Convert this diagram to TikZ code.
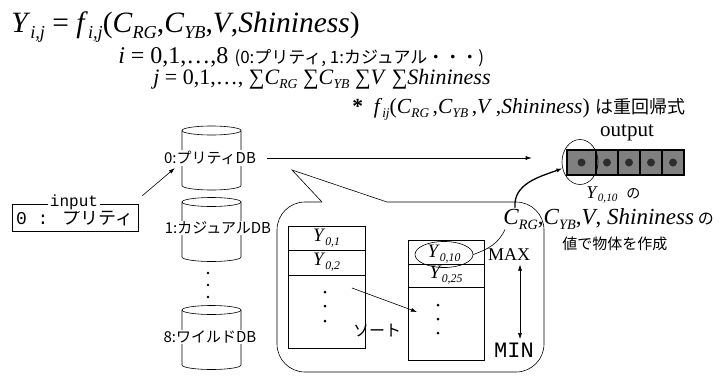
\documentclass[tikz,border=0pt]{standalone}
\usepackage{fontspec}
\usepackage{graphicx}
\setmainfont{Liberation Serif}
\newfontfamily\jpfont{Noto Sans CJK JP}
\newfontfamily\monofont{Liberation Mono}
\usetikzlibrary{arrows.meta,positioning,shapes.geometric}
\definecolor{cellgray}{RGB}{128,128,128}
\definecolor{dotgray}{RGB}{45,45,45}
\newcommand{\mi}[1]{\textit{#1}}
\newcommand{\sbs}[1]{\raisebox{-0.22em}{\scalebox{0.62}{\textit{#1}}}}
\newcommand{\fsz}[1]{\fontsize{#1}{#1}\selectfont}

\begin{document}
\begin{tikzpicture}[
  x=1pt, y=-1pt,
  >={Latex[length=6pt,width=4pt]},
  line width=0.6pt,
  txt/.style={inner sep=0pt, anchor=base west},
  dblabel/.style={fill=white, inner sep=1pt, font=\jpfont\fsz{15}},
  cell/.style={draw, outer sep=0pt, minimum width=77pt, inner sep=0pt, font=\fsz{19}},
  ocell/.style={draw=black, line width=1.3pt, fill=cellgray, outer sep=0pt, minimum height=25pt, minimum width=22pt, inner sep=0pt},
]
\useasboundingbox (0,0) rectangle (723,378);

% formulas
\node[txt, font=\fsz{29.5}] (eqy) at (11,32) {\mi{Y}\sbs{i,j} = \mi{f}\sbs{i,j}(\mi{C}\sbs{RG},\mi{C}\sbs{YB},\mi{V},\mi{Shininess})};
\node[txt, font=\fsz{24}] (eqi) at (118,63) {\mi{i} = 0,1,…,8 {\jpfont\fsz{17}(0:プリティ, 1:カジュアル・・・)}};
\node[txt, font=\fsz{22}] (eqj) at (153,84) {\mi{j} = 0,1,…, ∑\mi{C}\sbs{RG} ∑\mi{C}\sbs{YB} ∑\mi{V} ∑\mi{Shininess}};
\node[txt, font=\fsz{21.5}] (eqf) at (352,113) {\textbf{*}\ \ \mi{f}\sbs{ij}(\mi{C}\sbs{RG}\,,\mi{C}\sbs{YB}\,,\mi{V}\,,\mi{Shininess}) {\jpfont\fsz{18}は重回帰式}};

% databases
\foreach \ty/\nm/\lx/\ly/\lb in {130.5/db0/210/158/{0:プリティDB}, 202/db1/218/228/{1:カジュアルDB}, 310/db8/210/337/{8:ワイルドDB}} {
  \draw (211.5,\ty) ellipse [x radius=29.5pt, y radius=4.5pt];
  \draw (182,\ty) -- (182,\ty+55) arc [start angle=180, end angle=360, x radius=29.5pt, y radius=4.5pt] -- (241,\ty);
  \node[dblabel] (\nm) at (\lx,\ly) {\lb};
}
\foreach \yy in {273,285,297} \fill (208,\yy) circle [radius=1.4pt];

% input
\node[draw, minimum width=126pt, minimum height=27pt, inner sep=0pt] (inbox) at (75,217.5) {{\monofont\fsz{18}0 : }{\jpfont\fsz{18}プリティ}};
\node[fill=white, inner sep=2pt, anchor=base, font=\monofont\fsz{16}] (inlbl) at (74,206) {input};
\draw[->] ([xshift=4pt,yshift=8pt]inbox.north east) -- ([xshift=12pt,yshift=-2pt]db0.south west);

% output
\node[font=\fsz{21}, anchor=base] (outlbl) at (627,136) {output};
\node[ocell, minimum width=29pt] (o1) at (581.5,162.5) {};
\node[ocell, right=0pt of o1] (o2) {};
\node[ocell, right=0pt of o2] (o3) {};
\node[ocell, right=0pt of o3] (o4) {};
\node[ocell, right=0pt of o4] (o5) {};
\foreach \o in {o1,o2,o3,o4,o5} \fill[dotgray] (\o) circle [radius=4pt];
\node[draw, ellipse, minimum width=36pt, minimum height=45pt, inner sep=0pt] (osel) at (580,162) {};
\draw[->, shorten <=10pt, shorten >=30pt] (db0.east) -- (db0.east -| osel.west);

\node[txt, font=\fsz{18}] (ysel) at (586,198) {\mi{Y}\sbs{0,10}\ \ {\jpfont\fsz{14}の}};
\node[txt, font=\fsz{23}] (crg) at (503,224) {\mi{C}\sbs{RG},\mi{C}\sbs{YB},\mi{V}, \mi{Shininess}\,{\jpfont\fsz{16}の}};
\node[txt, font=\jpfont\fsz{15}] (make) at (562,249) {値で物体を作成};

% speech bubble
\draw[rounded corners=28pt] (387,202) -- (544,202) -- (544,372) -- (277,372) -- (277,202) -- (322,202);
\draw (322,202) -- (292,170) -- (387,202);

% unsorted table
\node[cell, minimum height=24pt] (y01) at (326.5,238) {\mi{Y}\sbs{0,1}};
\node[cell, minimum height=25pt, below=0pt of y01] (y02) {\mi{Y}\sbs{0,2}};
\node[cell, minimum height=73pt, below=0pt of y02] (lrest) {};
\foreach \yy in {292,306,321} \fill (325,\yy) circle [radius=1.5pt];

% sorted table
\node[cell, minimum width=76pt, minimum height=24pt] (r1) at (446,252) {};
\node[draw, ellipse, minimum width=58pt, minimum height=21pt, inner sep=0pt, font=\fsz{19}] (y010) at (444,254.5) {\mi{Y}\sbs{0,10}};
\node[cell, minimum width=76pt, minimum height=23pt, below=0pt of r1] (r2) {\mi{Y}\sbs{0,25}};
\node[cell, minimum width=76pt, minimum height=73pt, below=0pt of r2] (rrest) {};
\foreach \yy in {305,319,333} \fill (438,\yy) circle [radius=1.5pt];

\coordinate (sortfrom) at (352,288);
\coordinate (sortto) at (417,312);
\draw[->] (sortfrom) -- (sortto);
\node[font=\jpfont\fsz{16}] (sortlbl) at (377,331) {ソート};

\node[font=\fsz{18}] (maxlbl) at (509,255) {MAX};
\node[font=\monofont\fsz{22}] (minlbl) at (514,350) {MIN};
\coordinate (mmx) at (520,0);
\draw[<->] (maxlbl.south -| mmx) -- (minlbl.north -| mmx);

% selection to object
\draw (y010.east) to[out=20, in=-115] ([xshift=2pt]crg.south west);
\draw[->, line width=1.3pt] ([xshift=12pt]crg.north west) to[out=95, in=200] (osel.200);
\end{tikzpicture}
\end{document}
